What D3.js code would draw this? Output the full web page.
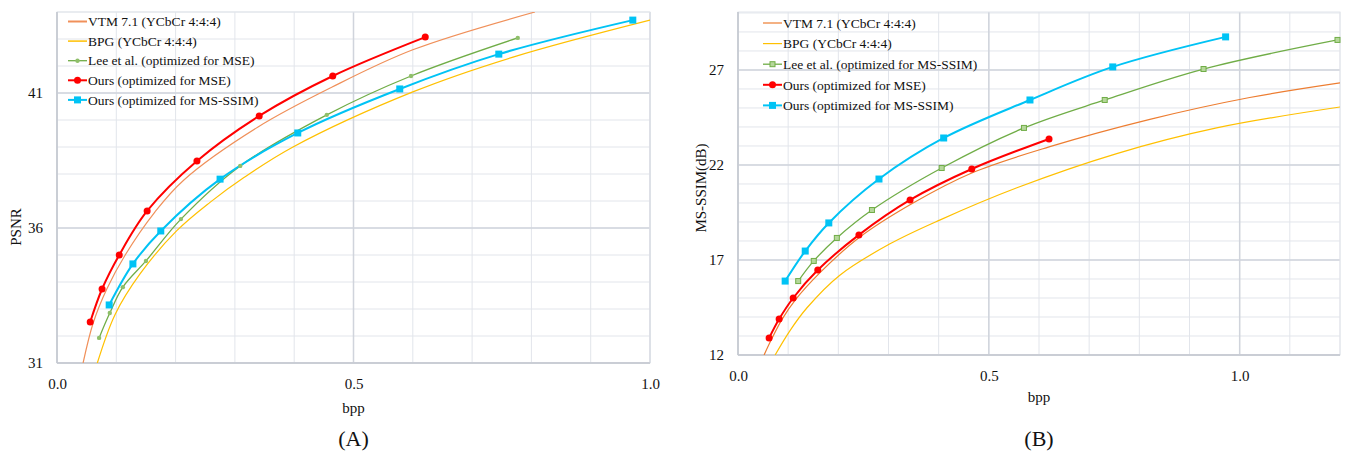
<!DOCTYPE html>
<html>
<head>
<meta charset="utf-8">
<script src="https://cdn.jsdelivr.net/npm/d3@7"></script>
<style>
body { margin: 0; background: #fff; }
svg text { font-family: "Liberation Serif", "Times New Roman", serif; fill: #111; }
</style>
</head>
<body>
<svg id="graph" width="1346" height="452"></svg>
<script>
// ---- data (bpp, value) ----
var vtmPsnr = [[0.044, 31.0], [0.061, 32.48], [0.084, 33.74], [0.115, 35.0], [0.165, 36.59], [0.214, 37.78], [0.339, 39.74], [0.464, 41.22], [0.600, 42.60], [0.806, 44.0]];
var bpgPsnr = [[0.068, 31.0], [0.098, 32.8], [0.140, 34.3], [0.202, 35.9], [0.258, 36.95], [0.314, 37.85], [0.398, 39.0], [0.600, 41.04], [0.769, 42.33], [1.0, 43.70]];
var leePsnr = [[0.071, 31.93], [0.089, 32.85], [0.111, 33.81], [0.150, 34.78], [0.209, 36.33], [0.309, 38.30], [0.455, 40.19], [0.597, 41.63], [0.777, 43.04]];
var oursMsePsnr = [[0.056, 32.52], [0.076, 33.74], [0.105, 35.0], [0.152, 36.63], [0.236, 38.48], [0.341, 40.15], [0.465, 41.63], [0.621, 43.07]];
var oursSsimPsnr = [[0.088, 33.15], [0.128, 34.67], [0.175, 35.89], [0.275, 37.81], [0.406, 39.52], [0.578, 41.15], [0.745, 42.44], [0.971, 43.70]];

var vtmSsim = [[0.052, 12.0], [0.068, 12.89], [0.088, 13.89], [0.114, 14.89], [0.163, 16.32], [0.243, 18.21], [0.349, 20.0], [0.466, 21.58], [0.620, 22.95], [0.821, 24.4], [1.020, 25.55], [1.2, 26.32]];
var bpgSsim = [[0.074, 12.0], [0.104, 13.3], [0.138, 14.5], [0.203, 16.2], [0.303, 17.85], [0.402, 19.1], [0.556, 20.8], [0.755, 22.6], [0.954, 23.95], [1.2, 25.05]];
var leeSsim = [[0.120, 15.89], [0.151, 16.95], [0.197, 18.16], [0.267, 19.63], [0.406, 21.84], [0.570, 23.95], [0.731, 25.42], [0.928, 27.05], [1.195, 28.58]];
var oursMseSsim = [[0.062, 12.89], [0.082, 13.89], [0.110, 15.0], [0.159, 16.47], [0.241, 18.32], [0.343, 20.16], [0.466, 21.79], [0.620, 23.37]];
var oursSsimSsim = [[0.094, 15.89], [0.134, 17.47], [0.181, 18.95], [0.281, 21.26], [0.410, 23.42], [0.582, 25.42], [0.747, 27.16], [0.972, 28.74]];

var xTicksA = [0, 0.5, 1.0];
var yTicksA = [31, 36, 41];
var xTicksB = [0, 0.5, 1.0];
var yTicksB = [12, 17, 22, 27];

var svg = d3.select("#graph");

function drawChart(opt) {
    var g = svg.append("g").attr("transform", "translate(" + opt.left + "," + opt.top + ")");
    var width = opt.width, height = opt.height;
    var x = d3.scaleLinear().domain(opt.xDomain).range([0, width]);
    var y = d3.scaleLinear().domain(opt.yDomain).range([height, 0]);

    // minor grid
    var xMinor = d3.range(opt.xDomain[0], opt.xDomain[1] + 0.001, 0.1);
    var yMinor = d3.range(opt.yDomain[0], opt.yDomain[1] + 0.001, 1);
    g.append("g").selectAll("line").data(xMinor).enter().append("line")
        .attr("x1", function(d) { return x(d); }).attr("x2", function(d) { return x(d); })
        .attr("y1", 0).attr("y2", height).attr("stroke", "#e2e5eb").attr("stroke-width", 1);
    g.append("g").selectAll("line").data(yMinor).enter().append("line")
        .attr("y1", function(d) { return y(d); }).attr("y2", function(d) { return y(d); })
        .attr("x1", 0).attr("x2", width).attr("stroke", "#e2e5eb").attr("stroke-width", 1);
    // major grid
    g.append("g").selectAll("line").data(opt.xTicks).enter().append("line")
        .attr("x1", function(d) { return x(d); }).attr("x2", function(d) { return x(d); })
        .attr("y1", 0).attr("y2", height).attr("stroke", "#d0d4dc").attr("stroke-width", 1.5);
    g.append("g").selectAll("line").data(opt.yTicks).enter().append("line")
        .attr("y1", function(d) { return y(d); }).attr("y2", function(d) { return y(d); })
        .attr("x1", 0).attr("x2", width).attr("stroke", "#d0d4dc").attr("stroke-width", 1.5);
    g.append("rect").attr("width", width).attr("height", height).attr("fill", "none").attr("stroke", "#e2e5eb");
    g.append("line").attr("x1", 0).attr("x2", width).attr("y1", height).attr("y2", height).attr("stroke", "#c3c7cf").attr("stroke-width", 1.5);
    g.append("line").attr("x1", 0).attr("x2", 0).attr("y1", 0).attr("y2", height).attr("stroke", "#c3c7cf").attr("stroke-width", 1.5);

    // axes (text only)
    var xAxis = g.append("g").attr("transform", "translate(0," + height + ")")
        .call(d3.axisBottom(x).tickValues(opt.xTicks).tickFormat(d3.format(".1f")).tickSize(0).tickPadding(opt.xPad));
    var yAxis = g.append("g")
        .call(d3.axisLeft(y).tickValues(opt.yTicks).tickSize(0).tickPadding(opt.yPad));
    [xAxis, yAxis].forEach(function(a) {
        a.select(".domain").remove();
        a.selectAll("text").attr("font-size", "15px").attr("fill", "#111");
    });

    var clipId = "clip" + opt.name;
    g.append("clipPath").attr("id", clipId).append("rect").attr("width", width).attr("height", height);

    var line = d3.line()
        .x(function(d) { return x(d[0]); })
        .y(function(d) { return y(d[1]); })
        .curve(d3.curveCatmullRom.alpha(0.5));

    var plot = g.append("g").attr("clip-path", "url(#" + clipId + ")");
    opt.series.forEach(function(s) {
        plot.append("path").attr("d", line(s.data)).attr("fill", "none")
            .attr("stroke", s.color).attr("stroke-width", s.width);
    });
    opt.series.forEach(function(s) {
        if (s.marker) {
            var m = g.append("g");
            s.data.forEach(function(d) {
                addMarker(m, s, x(d[0]), y(d[1]));
            });
        }
    });

    // legend
    var lg = g.append("g").attr("transform", "translate(" + opt.legendX + "," + opt.legendY + ")");
    opt.series.forEach(function(s, i) {
        var row = lg.append("g").attr("transform", "translate(0," + (i * opt.legendStep) + ")");
        row.append("line").attr("x1", 0).attr("x2", 19).attr("y1", 0).attr("y2", 0)
            .attr("stroke", s.color).attr("stroke-width", s.legendWidth || s.width);
        if (s.marker) addMarker(row, s, 9.5, 0);
        row.append("text").attr("x", 20).attr("y", 0).attr("dy", "0.35em")
            .attr("font-size", "13.5px").text(s.name);
    });

    // titles
    svg.append("text").attr("x", opt.left + x(opt.xTitleAt)).attr("y", opt.xTitleY).attr("text-anchor", "middle")
        .attr("font-size", "15px").text("bpp");
    svg.append("text").attr("transform", "translate(" + opt.yTitleX + "," + opt.yTitleY + ") rotate(-90)")
        .attr("text-anchor", "middle").attr("font-size", "15px").text(opt.yTitle);
    svg.append("text").attr("x", opt.left + x(opt.xTitleAt)).attr("y", 446).attr("text-anchor", "middle")
        .attr("font-size", "22px").text(opt.caption);
}

function addMarker(g, s, cx, cy) {
    if (s.marker === "circle") {
        g.append("circle").attr("cx", cx).attr("cy", cy).attr("r", s.size).attr("fill", s.fill || s.color);
    } else if (s.marker === "square") {
        g.append("rect").attr("x", cx - s.size).attr("y", cy - s.size).attr("width", s.size * 2).attr("height", s.size * 2)
            .attr("fill", s.fill || s.color).attr("stroke", s.color).attr("stroke-width", s.stroke || 0);
    }
}

drawChart({
    name: "A", left: 57, top: 12, width: 593, height: 351,
    xDomain: [0, 1], yDomain: [31, 44], xTicks: xTicksA, yTicks: yTicksA,
    xPad: 15, yPad: 14,
    legendX: 11, legendY: 9.5, legendStep: 19.6,
    xTitleAt: 0.5, xTitleY: 413, yTitle: "PSNR", yTitleX: 21, yTitleY: 227,
    caption: "(A)",
    series: [
        { name: "VTM 7.1 (YCbCr 4:4:4)", data: vtmPsnr, color: "#f0905a", width: 1.2, legendWidth: 2 },
        { name: "BPG (YCbCr 4:4:4)", data: bpgPsnr, color: "#ffc000", width: 1.2, legendWidth: 1.5 },
        { name: "Lee et al. (optimized for MSE)", data: leePsnr, color: "#70ad47", width: 1.3, marker: "circle", size: 2.2, fill: "#8fbf6a" },
        { name: "Ours (optimized for MSE)", data: oursMsePsnr, color: "#ff0000", width: 2, marker: "circle", size: 3.5 },
        { name: "Ours (optimized for MS-SSIM)", data: oursSsimPsnr, color: "#00c3f5", width: 2, marker: "square", size: 3.5 }
    ]
});

drawChart({
    name: "B", left: 738, top: 12, width: 602, height: 343,
    xDomain: [0, 1.2], yDomain: [12, 30.05], xTicks: xTicksB, yTicks: yTicksB,
    xPad: 15, yPad: 14,
    legendX: 25, legendY: 11, legendStep: 20.6,
    xTitleAt: 0.6, xTitleY: 402, yTitle: "MS-SSIM(dB)", yTitleX: 706, yTitleY: 188,
    caption: "(B)",
    series: [
        { name: "VTM 7.1 (YCbCr 4:4:4)", data: vtmSsim, color: "#ed7d31", width: 1.2 },
        { name: "BPG (YCbCr 4:4:4)", data: bpgSsim, color: "#ffc000", width: 1.2 },
        { name: "Lee et al. (optimized for MS-SSIM)", data: leeSsim, color: "#70ad47", width: 1.3, marker: "square", size: 2.5, fill: "#b5d79a", stroke: 1 },
        { name: "Ours (optimized for MSE)", data: oursMseSsim, color: "#ff0000", width: 2, marker: "circle", size: 3.5 },
        { name: "Ours (optimized for MS-SSIM)", data: oursSsimSsim, color: "#00c3f5", width: 2, marker: "square", size: 3.5 }
    ]
});
</script>
</body>
</html>
